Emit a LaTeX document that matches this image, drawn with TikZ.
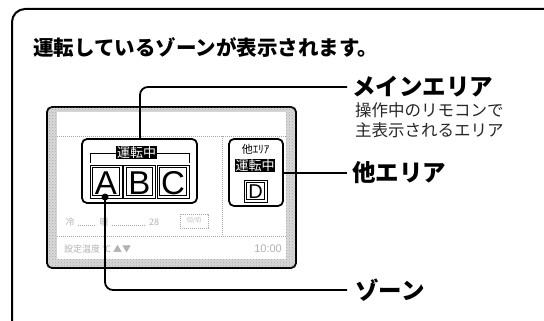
\documentclass[tikz,border=0pt]{standalone}
\usepackage{fontspec}
\setmainfont{Liberation Sans}
\newfontfamily\jp{Noto Sans CJK JP}
\usetikzlibrary{patterns}
\tikzset{
  frame/.style={line width=1.8pt, rounded corners=5pt},
  conn/.style={line width=1.8pt, rounded corners=8pt},
  dotln/.style={gray!70, line width=0.6pt, dash pattern=on 0.7pt off 1.3pt},
  lbl/.style={anchor=west, inner sep=0pt, font=\jp\bfseries\fontsize{23.5}{23.5}\selectfont},
  sub/.style={anchor=west, inner sep=0pt, text=black!85, font=\jp\fontsize{16.5}{16.5}\selectfont},
  inv/.style={fill=black, text=white, inner sep=0.8pt, font=\jp\fontsize{13}{13}\selectfont},
  letter/.style={font=\fontsize{33}{33}\selectfont, inner sep=0pt},
  thinbox/.style={line width=0.7pt},
  faint/.style={text=gray!60, inner sep=0pt, font=\jp\fontsize{9}{9}\selectfont}
}
\begin{document}
\begin{tikzpicture}[x=1pt,y=-1pt]
\useasboundingbox (0,0) rectangle (544,321);
% outer frame
\coordinate (f1) at (12,321);
\coordinate (f2) at (12,9);
\coordinate (f3) at (544,9);
\draw[line width=2pt, rounded corners=13pt] (f1) -- (f2) -- (f3);
\node[anchor=west, inner sep=0pt, font=\jp\bfseries\fontsize{20.5}{20.5}\selectfont] (title) at (33,47) {運転しているゾーンが表示されます。};
% device
\draw[frame, fill=gray!30] (47,107) rectangle (296,268);
\fill[pattern=crosshatch dots, pattern color=gray!70] (48,108) rectangle (295,267);
\fill[white] (57,112) rectangle (286,259);
\draw[dotln] (57,136) -- (286,136);
\draw[dotln] (222,136) -- (222,236);
\draw[dotln] (57,236) -- (286,236);
% faint placeholders
\node[faint] (p1) at (70,222) {冷};
\draw[dotln] (78,225) -- (96,225);
\node[faint] (p2) at (104,222) {暖};
\draw[dotln] (112,225) -- (146,225);
\node[faint] (p3) at (154,222) {28};
\draw[dotln] (180,214) rectangle (208,228);
\node[faint, font=\jp\fontsize{6}{6}\selectfont] (p4) at (194,221) {切/切};
\node[faint, anchor=west] (p5) at (64,249) {設定温度 ℃ ▲▼};
\node[faint, anchor=east, font=\fontsize{11}{11}\selectfont] (p6) at (282,249) {10:00};
% main area box
\draw[frame, fill=white] (82,139) rectangle (197,203);
\draw[thinbox] (90,163) -- (90,153) -- (189,153) -- (189,163);
\node[inv] (run1) at (136.5,152.5) {運転中};
\foreach \n/\xa/\t in {a/90/A, b/123.5/B, c/157/C} {
  \draw[thinbox] (\xa,165) rectangle ++(32,33);
  \draw[thinbox] (\xa+2.8,167.8) rectangle ++(26.4,27.4);
  \node[letter] (\n) at (\xa+16,183) {\t};
}
\fill (105,197) circle (3.5) coordinate (dot);
% other area box
\draw[frame, fill=white] (229,139) rectangle (283,206);
\node[inner sep=0pt, font=\jp\fontsize{11}{11}\selectfont] (oth) at (255.5,149) {他ｴﾘｱ};
\node[inv] (run2) at (255,165.5) {運転中};
\draw[thinbox] (244,180) rectangle (267,202);
\draw[thinbox] (246.6,182.6) rectangle (264.4,199.4);
\node[letter, font=\fontsize{20}{20}\selectfont] (d) at (255.5,191.5) {D};
% labels
\node[lbl] (lmain) at (352,87) {メインエリア};
\node[sub] (s1) at (355,110) {操作中のリモコンで};
\node[sub] (s2) at (355,130) {主表示されるエリア};
\node[lbl] (loth) at (352,173) {他エリア};
\node[lbl] (lzone) at (355,290) {ゾーン};
% connectors
\coordinate (m0) at (140,139);
\coordinate (o0) at (283,173);
\draw[conn] (m0) -- (140,87) -- (347,87);
\draw[conn] (o0) -- (347,173);
\draw[conn] (dot) -- (105,290) -- (347,290);
\end{tikzpicture}
\end{document}
